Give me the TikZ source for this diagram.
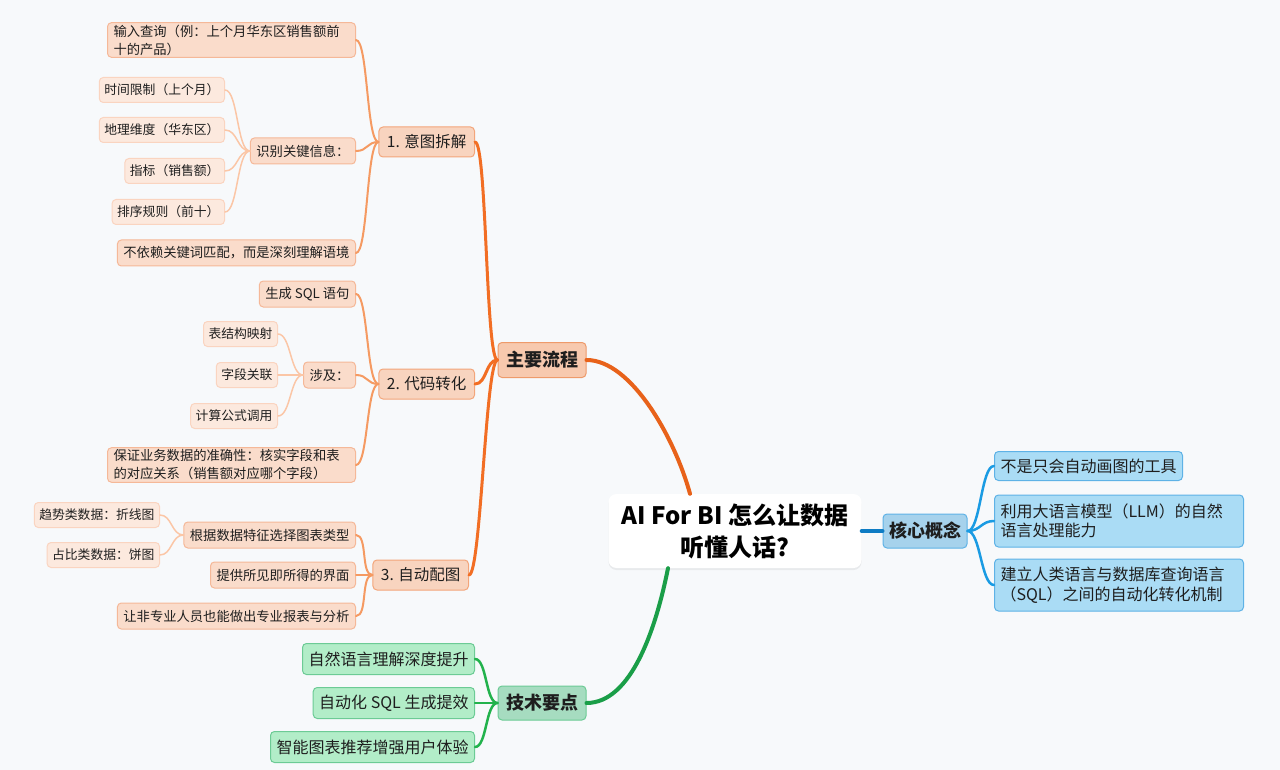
\documentclass[tikz,border=0pt]{standalone}
\usepackage{fontspec}
\newfontfamily\cjk{Noto Sans CJK SC}
\usetikzlibrary{positioning, calc, shadows}

\definecolor{bgc}{HTML}{F7F9FB}
\definecolor{orMain}{HTML}{E8621A}
\definecolor{orTwo}{HTML}{F26E24}
\definecolor{orThree}{HTML}{F59A62}
\definecolor{orFour}{HTML}{FBC6A6}
\definecolor{orFillA}{HTML}{F7C9AE}
\definecolor{orFillB}{HTML}{F8D4BF}
\definecolor{orFillC}{HTML}{FADCCB}
\definecolor{orFillD}{HTML}{FCE9DE}
\definecolor{orDrawA}{HTML}{EE9A6A}
\definecolor{orDrawB}{HTML}{F3A57A}
\definecolor{orDrawC}{HTML}{F5B898}
\definecolor{orDrawD}{HTML}{FAD4C0}
\definecolor{blMain}{HTML}{0E7CC4}
\definecolor{blLine}{HTML}{1A9BE3}
\definecolor{blFillA}{HTML}{A6D2EC}
\definecolor{blFillB}{HTML}{AADCF5}
\definecolor{blDraw}{HTML}{5EB2E6}
\definecolor{grMain}{HTML}{1A9E48}
\definecolor{grLine}{HTML}{22B24C}
\definecolor{grFillA}{HTML}{A6DCC0}
\definecolor{grFillB}{HTML}{B2EDC8}
\definecolor{grDraw}{HTML}{6CCB95}
\definecolor{txt}{HTML}{1E1E1E}

\tikzset{
  box/.style={rounded corners=4pt, line width=1pt, text=txt, inner ysep=2pt},
  mainbox/.style={box, fill=orFillA, draw=orDrawA, font=\cjk\bfseries\fontsize{18}{20}\selectfont,
    minimum height=35pt, inner xsep=8pt},
  stagebox/.style={box, fill=orFillB, draw=orDrawB, font=\cjk\fontsize{15.5}{18}\selectfont,
    minimum height=30pt, inner xsep=8pt},
  itembox/.style={box, fill=orFillC, draw=orDrawC, font=\cjk\fontsize{13.3}{18}\selectfont,
    minimum height=26pt, inner xsep=6pt},
  leafbox/.style={box, fill=orFillD, draw=orDrawD, font=\cjk\fontsize{12.8}{16}\selectfont,
    minimum height=25pt, inner xsep=5pt},
  conceptbox/.style={box, fill=blFillA, draw=blDraw, font=\cjk\bfseries\fontsize{18}{20}\selectfont,
    minimum height=34pt, inner xsep=6pt},
  conceptitem/.style={box, fill=blFillB, draw=blDraw, font=\cjk\fontsize{16}{19.5}\selectfont,
    minimum height=29pt, inner xsep=6pt, align=left},
  techbox/.style={box, fill=grFillA, draw=grDraw, font=\cjk\bfseries\fontsize{18}{20}\selectfont,
    minimum height=34pt, inner xsep=8pt},
  techitem/.style={box, fill=grFillB, draw=grDraw, font=\cjk\fontsize{16}{19}\selectfont,
    minimum height=31pt, inner xsep=6pt},
  lnkmain/.style={line width=4pt, line cap=round},
  lnktwo/.style={line width=3pt, line cap=round},
  lnkthree/.style={line width=2pt, line cap=round, orThree},
  lnkfour/.style={line width=1.5pt, line cap=round, orFour}
}

\begin{document}
\begin{tikzpicture}[x=1pt, y=-1pt]

  % Background
  \fill[bgc] (0,0) rectangle (1280,770);

  % Central topic
  \node[rounded corners=8pt, fill=white, text=black, minimum width=253pt, minimum height=74pt,
        align=center, font=\cjk\bfseries\fontsize{24}{32}\selectfont,
        drop shadow={opacity=0.12, shadow xshift=0pt, shadow yshift=-2pt}]
        (ctr) at (735,531) {AI For BI 怎么让数据\\听懂人话?};

  % Main branches
  \node[mainbox] (flow) at (542,360) {主要流程};
  \node[conceptbox] (core) at (925,531) {核心概念};
  \node[techbox] (tech) at (542,703) {技术要点};

  % Stages
  \node[stagebox, anchor=east] (s1) at (475,142) {1. 意图拆解};
  \node[stagebox, anchor=east] (s2) at (475,384) {2. 代码转化};
  \node[stagebox, anchor=east] (s3) at (469,575) {3. 自动配图};

  % Stage 1 items
  \node[itembox, anchor=east, minimum width=248pt, align=left, text width=236pt] (q1) at (356,40)
       {输入查询（例：上个月华东区销售额前\\十的产品）};
  \node[itembox, anchor=east] (q2) at (356,151) {识别关键信息：};
  \node[itembox, anchor=east] (q3) at (356,253) {不依赖关键词匹配，而是深刻理解语境};
  \node[leafbox, anchor=east] (k1) at (225,90) {时间限制（上个月）};
  \node[leafbox, anchor=east] (k2) at (225,130) {地理维度（华东区）};
  \node[leafbox, anchor=east] (k3) at (225,171) {指标（销售额）};
  \node[leafbox, anchor=east] (k4) at (225,212) {排序规则（前十）};

  % Stage 2 items
  \node[itembox, anchor=east] (c1) at (356,294) {生成 SQL 语句};
  \node[itembox, anchor=east] (c2) at (356,375) {涉及：};
  \node[itembox, anchor=east, minimum width=248pt, align=left, text width=236pt] (c3) at (356,465)
       {保证业务数据的准确性：核实字段和表\\的对应关系（销售额对应哪个字段）};
  \node[leafbox, anchor=east] (m1) at (278,334) {表结构映射};
  \node[leafbox, anchor=east] (m2) at (278,375) {字段关联};
  \node[leafbox, anchor=east] (m3) at (278,416) {计算公式调用};

  % Stage 3 items
  \node[itembox, anchor=east] (v1) at (356,535) {根据数据特征选择图表类型};
  \node[itembox, anchor=east] (v2) at (356,575) {提供所见即所得的界面};
  \node[itembox, anchor=east] (v3) at (356,616) {让非专业人员也能做出专业报表与分析};
  \node[leafbox, anchor=east] (g1) at (160,515) {趋势类数据：折线图};
  \node[leafbox, anchor=east] (g2) at (160,555) {占比类数据：饼图};

  % Core concept items
  \node[conceptitem, anchor=west] (b1) at (994,466) {不是只会自动画图的工具};
  \node[conceptitem, anchor=west, minimum width=249pt, text width=237pt, minimum height=52pt] (b2) at (994,521)
       {利用大语言模型（LLM）的自然\\语言处理能力};
  \node[conceptitem, anchor=west, minimum width=249pt, text width=237pt, minimum height=52pt] (b3) at (994,585)
       {建立人类语言与数据库查询语言\\（SQL）之间的自动化转化机制};

  % Tech points
  \node[techitem, anchor=east] (t1) at (475,659) {自然语言理解深度提升};
  \node[techitem, anchor=east] (t2) at (475,703) {自动化 SQL 生成提效};
  \node[techitem, anchor=east] (t3) at (475,747) {智能图表推荐增强用户体验};

  % Connectors from the centre
  \draw[lnkmain, orMain] ([xshift=-45pt]ctr.north) .. controls +(-15,-55) and +(45,0) .. (flow.east);
  \draw[lnkmain, grMain] ([xshift=-67pt]ctr.south) .. controls +(-12,60) and +(45,0) .. (tech.east);
  \draw[lnkmain, blMain] (ctr.east) -- (core.west);

  % Connectors of the main flow
  \foreach \s in {s1,s2,s3}
    \draw[lnktwo, orTwo] (flow.west) .. controls +(-12,0) and +(12,0) .. (\s.east);
  \foreach \c in {q1,q2,q3}
    \draw[lnkthree] (s1.west) .. controls +(-12,0) and +(12,0) .. (\c.east);
  \foreach \c in {k1,k2,k3,k4}
    \draw[lnkfour] (q2.west) .. controls +(-13,0) and +(13,0) .. (\c.east);
  \foreach \c in {c1,c2,c3}
    \draw[lnkthree] (s2.west) .. controls +(-12,0) and +(12,0) .. (\c.east);
  \foreach \c in {m1,m2,m3}
    \draw[lnkfour] (c2.west) .. controls +(-13,0) and +(13,0) .. (\c.east);
  \foreach \c in {v1,v2,v3}
    \draw[lnkthree] (s3.west) .. controls +(-12,0) and +(12,0) .. (\c.east);
  \foreach \c in {g1,g2}
    \draw[lnkfour] (v1.west) .. controls +(-12,0) and +(12,0) .. (\c.east);

  % Connectors of concepts and tech points
  \foreach \c in {b1,b2,b3}
    \draw[line width=2.5pt, line cap=round, blLine] (core.east) .. controls +(13,0) and +(-13,0) .. (\c.west);
  \foreach \c in {t1,t2,t3}
    \draw[line width=2.5pt, line cap=round, grLine] (tech.west) .. controls +(-12,0) and +(12,0) .. (\c.east);

\end{tikzpicture}
\end{document}
